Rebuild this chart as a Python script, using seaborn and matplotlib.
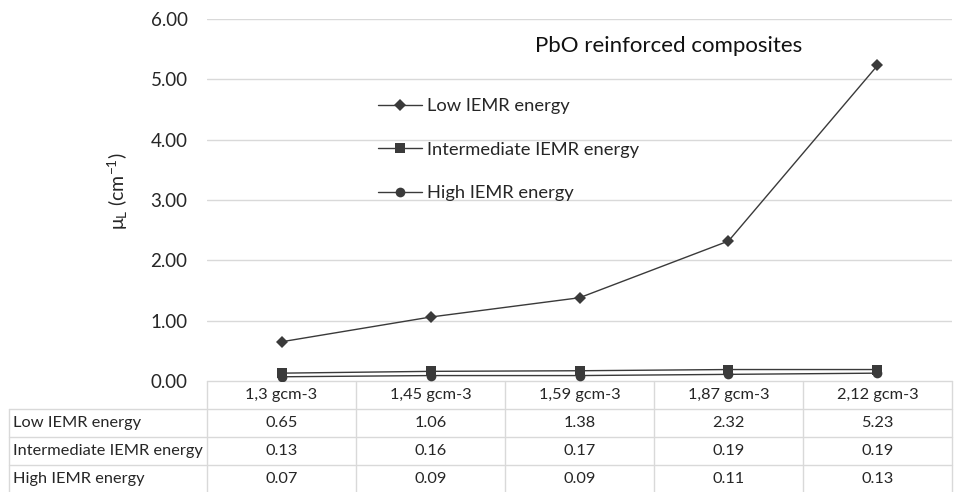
import matplotlib
matplotlib.use("Agg")
import matplotlib.pyplot as plt
import seaborn as sns

# Densities of the PbO reinforced composites (category axis / table header)
densities = ["1,3 gcm-3", "1,45 gcm-3", "1,59 gcm-3", "1,87 gcm-3", "2,12 gcm-3"]
series_names = ["Low IEMR energy", "Intermediate IEMR energy", "High IEMR energy"]
low_energy = [0.65, 1.06, 1.38, 2.32, 5.23]
intermediate_energy = [0.13, 0.16, 0.17, 0.19, 0.19]
high_energy = [0.07, 0.09, 0.09, 0.11, 0.13]
y_ticks = [0, 1, 2, 3, 4, 5, 6]

W, H = 979, 492
INK = "#3a3a3a"
GRID = "#d9d9d9"
TEXT = "#262626"

sns.set_theme(style="white")
plt.rcParams["font.family"] = ["Lato", "DejaVu Sans"]
plt.rcParams["mathtext.fontset"] = "custom"
plt.rcParams["mathtext.rm"] = "Lato"
plt.rcParams["mathtext.default"] = "regular"


def px_rect(x0, y0, x1, y1):
    return [x0 / W, 1 - y1 / H, (x1 - x0) / W, (y1 - y0) / H]


fig = plt.figure(figsize=(W / 100, H / 100), dpi=100)

# Overlay in pixel coordinates for the data table under the chart
table_ax = fig.add_axes([0, 0, 1, 1], zorder=0)
table_ax.set_xlim(0, W)
table_ax.set_ylim(H, 0)
table_ax.axis("off")

ax = fig.add_axes(px_rect(207, 19, 952, 381), zorder=1)
ax.patch.set_alpha(0)

series = [
    (series_names[0], low_energy, "D", 6.0),
    (series_names[1], intermediate_energy, "s", 6.5),
    (series_names[2], high_energy, "o", 7.0),
]
for name, values, marker, msize in series:
    sns.lineplot(x=densities, y=values, ax=ax, color=INK, linewidth=1.0,
                 marker=marker, markersize=msize, markeredgewidth=0,
                 label=name, sort=False)

ax.set_xlim(-0.5, len(densities) - 0.5)
ax.set_ylim(0, 6)
ax.set_yticks(y_ticks)
ax.set_yticklabels([f"{t:.2f}" for t in y_ticks], fontsize=13.5, color=TEXT)
ax.tick_params(axis="y", length=0, pad=14)
ax.set_xticks([])
ax.set_xlabel("")
for s in ax.spines.values():
    s.set_visible(False)
for t in y_ticks[1:]:
    ax.axhline(t, color=GRID, linewidth=1.0, zorder=0)

ax.set_ylabel(r"μ$_{L}$ (cm$^{-1}$)", fontsize=14, color=TEXT)
ax.yaxis.set_label_coords(-0.104, 0.525)

ax.text(0.62, 0.925, "PbO reinforced composites", transform=ax.transAxes,
        fontsize=16, color="#111111", ha="center", va="center")

leg = ax.legend(loc="upper left", bbox_to_anchor=(378 / W, 1 - 98 / H),
                bbox_transform=fig.transFigure, frameon=False, fontsize=13.2,
                handlelength=2.4, handletextpad=0.3, labelspacing=1.5,
                borderpad=0, borderaxespad=0)
for txt in leg.get_texts():
    txt.set_color(TEXT)

# Data table
x_left, x_lab, x_right = 9, 207, 952
col_w = (x_right - x_lab) / len(densities)
y_rows = [381, 409, 437, 465, 493]
lw = 1.0
for i in range(len(densities) + 1):
    xv = x_lab + i * col_w
    table_ax.plot([xv, xv], [y_rows[0], y_rows[-1]], color=GRID, lw=lw)
table_ax.plot([x_left, x_left], [y_rows[1], y_rows[-1]], color=GRID, lw=lw)
table_ax.plot([x_lab, x_right], [y_rows[0], y_rows[0]], color=GRID, lw=lw)
for yr in y_rows[1:4]:
    table_ax.plot([x_left, x_right], [yr, yr], color=GRID, lw=lw)

for i, d in enumerate(densities):
    table_ax.text(x_lab + (i + 0.5) * col_w, (y_rows[0] + y_rows[1]) / 2, d,
                  ha="center", va="center", fontsize=11.75, color=TEXT)

rows = [low_energy, intermediate_energy, high_energy]
for r, (name, values) in enumerate(zip(series_names, rows)):
    yc = (y_rows[r + 1] + y_rows[r + 2]) / 2
    table_ax.text(x_left + 4, yc, name, ha="left", va="center",
                  fontsize=11.75, color=TEXT)
    for i, v in enumerate(values):
        table_ax.text(x_lab + (i + 0.5) * col_w, yc, f"{v:.2f}",
                      ha="center", va="center", fontsize=11.75, color=TEXT)

fig.savefig("out.png", dpi=100, facecolor="white")
